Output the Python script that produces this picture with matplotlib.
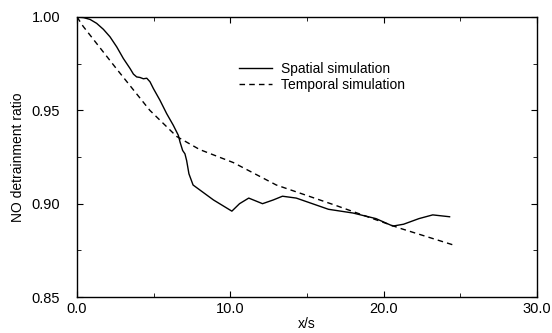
import matplotlib
matplotlib.use("Agg")
import matplotlib.pyplot as plt
from matplotlib.ticker import MultipleLocator

plt.rcParams['font.family'] = ['Liberation Sans', 'DejaVu Sans']

# Spatial simulation (solid)
spatial_x = [0.0, 0.41, 0.85, 1.28, 1.72, 2.15, 2.59, 3.02, 3.46, 3.68, 3.89, 4.11,
             4.33, 4.55, 4.76, 4.98, 5.41, 5.85, 6.28, 6.61, 6.72, 6.89, 7.04, 7.15,
             7.3, 7.57, 8.9, 10.1, 10.6, 11.2, 12.1, 12.8, 13.4, 14.3, 16.4,
             18.0, 19.5, 20.6, 21.3, 22.3, 23.2, 24.3]
spatial_y = [1.000, 0.9997, 0.9987, 0.9966, 0.9934, 0.9894, 0.9840, 0.9778, 0.9724,
             0.9694, 0.9679, 0.9676, 0.9669, 0.9672, 0.9653, 0.9617, 0.9554, 0.9482,
             0.9420, 0.9366, 0.9330, 0.9285, 0.9267, 0.9231, 0.916, 0.910, 0.902,
             0.896, 0.900, 0.903, 0.900, 0.902, 0.904, 0.903, 0.897, 0.895, 0.892,
             0.888, 0.889, 0.892, 0.894, 0.893]

# Temporal simulation (dashed)
temporal_x = [0.0, 0.4, 2.6, 4.75, 6.5, 8.0, 10.2, 13.0, 16.9, 21.0, 24.5]
temporal_y = [1.000, 0.995, 0.972, 0.950, 0.936, 0.929, 0.922, 0.910, 0.899, 0.887, 0.878]

fig = plt.figure(figsize=(5.52, 3.33), dpi=100)
ax = fig.add_axes([0.1395, 0.108, 0.8333, 0.841])

ax.plot(spatial_x, spatial_y, color='black', lw=1.0, label='Spatial simulation')
ax.plot(temporal_x, temporal_y, color='black', lw=1.0, ls=(0, (4, 3)),
        label='Temporal simulation')

ax.set_xlim(0, 30)
ax.set_ylim(0.85, 1.00)
ax.xaxis.set_major_locator(MultipleLocator(10))
ax.xaxis.set_minor_locator(MultipleLocator(5))
ax.yaxis.set_major_locator(MultipleLocator(0.05))
ax.yaxis.set_minor_locator(MultipleLocator(0.025))
ax.set_xticklabels([f"{v:.1f}" for v in ax.get_xticks()])
ax.set_yticklabels([f"{v:.2f}" for v in ax.get_yticks()])
ax.tick_params(which='both', direction='in', top=True, right=True, labelsize=10.5)
ax.tick_params(which='major', length=4)
ax.tick_params(which='minor', length=3)
ax.tick_params(axis='y', pad=12)
for s in ax.spines.values():
    s.set_linewidth(1.0)

ax.set_xlabel('x/s', fontsize=10, labelpad=1)
ax.set_ylabel('NO detrainment ratio', fontsize=10, labelpad=5)

ax.legend(loc='upper left', bbox_to_anchor=(0.34, 0.86), frameon=False,
          fontsize=10, handlelength=2.4, handletextpad=0.6, labelspacing=0.15,
          borderaxespad=0)

fig.savefig('out.png', dpi=100)
